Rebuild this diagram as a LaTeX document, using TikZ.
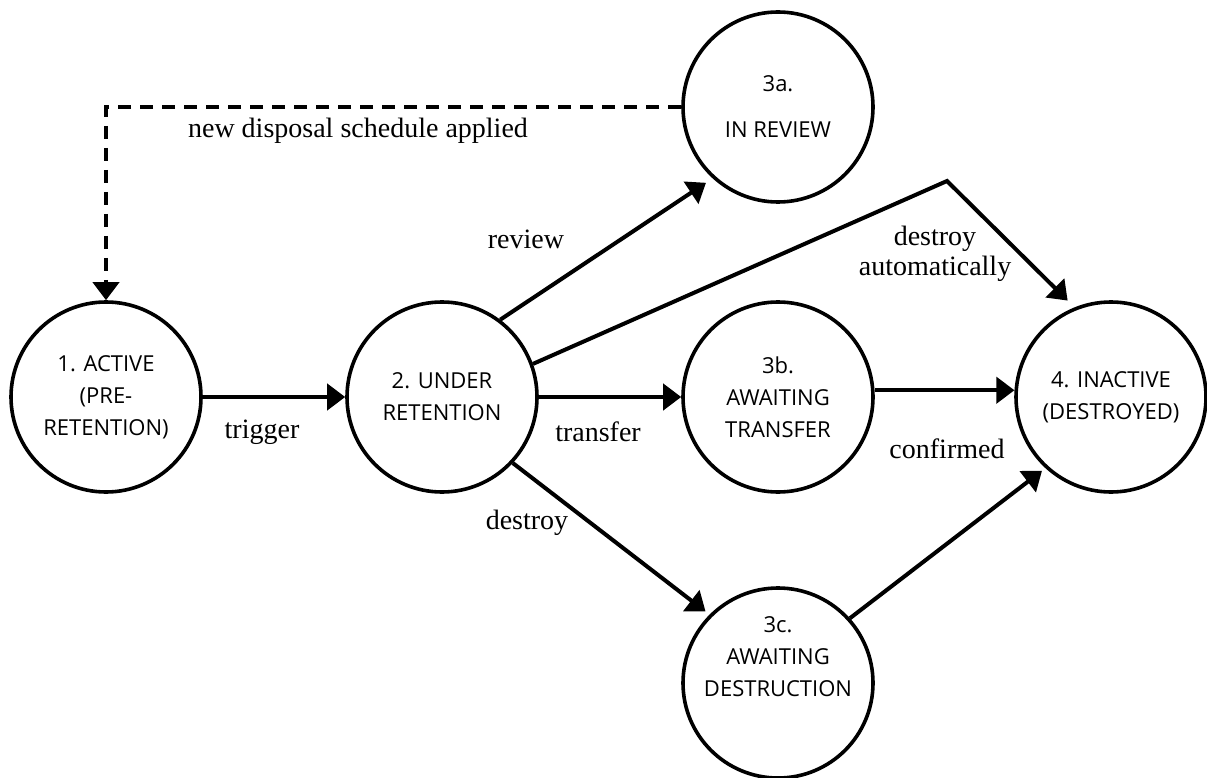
\documentclass[tikz,border=0pt]{standalone}
\usepackage{fontspec}
\setmainfont{Liberation Serif}
\newfontfamily\opensans{Open Sans}
\usetikzlibrary{arrows.meta}
\tikzset{
  state/.style={circle, draw, line width=3.6pt, minimum size=190pt, inner sep=0pt,
    align=center, font=\opensans\fontsize{22}{32}\selectfont},
  stext/.style={align=center, inner sep=0pt, font=\opensans\fontsize{22}{32}\selectfont},
  lbl/.style={inner sep=0pt, align=center, font=\fontsize{28}{30}\selectfont},
  conn/.style={line width=4pt, -{Triangle[length=18pt,width=26pt]}},
  dconn/.style={conn, dash pattern=on 13pt off 9pt},
}
\begin{document}
\begin{tikzpicture}[x=1pt,y=-1pt]
\useasboundingbox (0,0) rectangle (1207,778);
\node[state] (n1) at (106,397) {1. ACTIVE\\(PRE-\\RETENTION)};
\node[state] (n2) at (442,397) {2. UNDER\\RETENTION};
\node[state] (n3a) at (778,107) {3a.\\[14pt]IN REVIEW};
\node[state] (n3b) at (778,397) {3b.\\AWAITING\\TRANSFER};
\node[state] (n3c) at (778,683) {};
\node[stext] (t3c) at (778,657) {3c.\\AWAITING\\DESTRUCTION};
\node[state] (n4) at (1111,397) {4. INACTIVE\\(DESTROYED)};
\coordinate (bend) at (947,181);
\draw[conn] (n1) -- (n2);
\draw[conn] (n2) -- (n3b);
\draw[conn] (n3b.4) -- (n4.176);
\draw[conn] (n2.53) -- ([shift={(-6,5)}]n3a.227);
\draw[conn] (n2.20) -- (bend) -- ([shift={(-4,-8)}]n4.114);
\draw[conn] (n2.-43) -- ([shift={(-4,-3)}]n3c.135);
\draw[conn] (n3c.42) -- ([shift={(-3,3)}]n4.227);
\draw[dconn] (n3a.west) -| (n1.north);
\node[lbl, anchor=base] (lnew) at (358,138) {new disposal schedule applied};
\node[lbl, anchor=base] (lrev) at (526,248) {review};
\node[lbl] (lauto) at (935,254) {destroy\\automatically};
\node[lbl, anchor=base] (ltrig) at (262,438) {trigger};
\node[lbl, anchor=base] (ltran) at (598,441) {transfer};
\node[lbl, anchor=base] (lconf) at (947,458) {confirmed};
\node[lbl, anchor=base] (ldes) at (527,529) {destroy};
\end{tikzpicture}
\end{document}
